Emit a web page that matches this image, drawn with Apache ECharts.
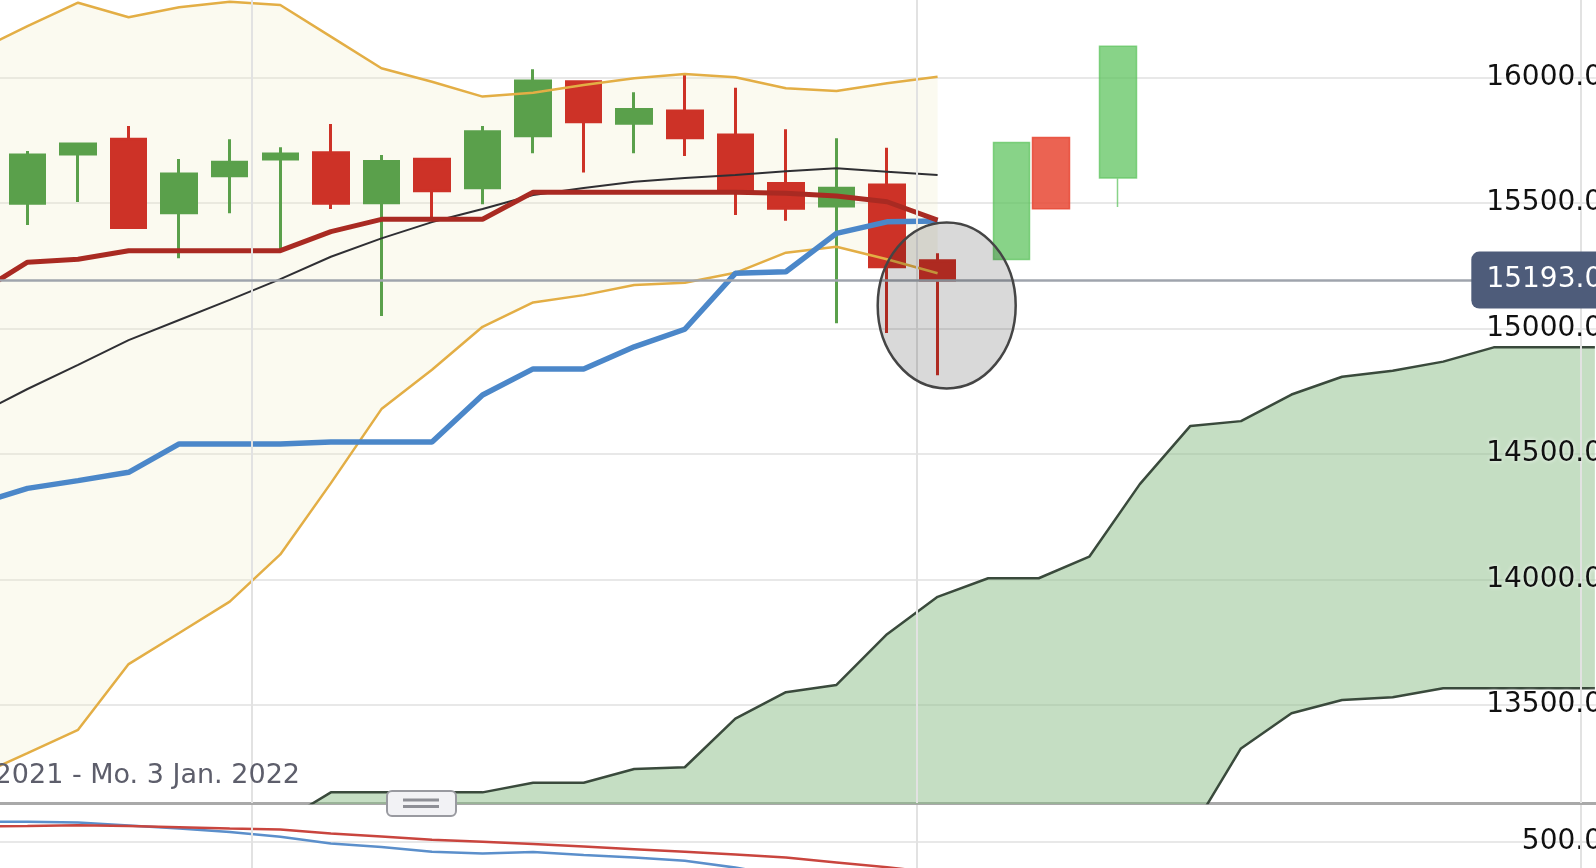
<!DOCTYPE html>
<html>
<head>
<meta charset="utf-8">
<title>Ichimoku</title>
<script src="https://cdn.jsdelivr.net/npm/echarts@6.0.0/dist/echarts.min.js"></script>
<style>
  html, body { margin: 0; padding: 0; background: #fff; overflow: hidden; }
  #chart { width: 1596px; height: 868px; }
</style>
</head>
<body>
<div id="chart"></div>
<script>
// daily candles, day 0..18 : [open, close, low, high]
const candles = [
  [15499, 15691, 15412, 15707],
  [15695, 15735, 15504, 15735],
  [15754, 15402, 15402, 15807],
  [15461, 15616, 15280, 15675],
  [15609, 15662, 15459, 15754],
  [15675, 15695, 15313, 15722],
  [15700, 15499, 15476, 15815],
  [15501, 15665, 15050, 15691],
  [15674, 15549, 15439, 15678],
  [15561, 15784, 15495, 15807],
  [15768, 15986, 15698, 16033],
  [15983, 15824, 15622, 15983],
  [15818, 15873, 15698, 15941],
  [15867, 15760, 15687, 16010],
  [15771, 15552, 15452, 15959],
  [15578, 15479, 15429, 15794],
  [15488, 15559, 15021, 15758],
  [15572, 15246, 14982, 15720],
  [15270, 15193, 14814, 15300]
];
const lastPrice = 15193;

// indicator lines, day -1..18
const indStart = -1;
const bollUpper = [16106, 16205, 16298, 16240, 16280, 16302, 16289, 16163, 16037, 15983,
                   15924, 15939, 15970, 15997, 16014, 16001, 15957, 15946, 15977, 16003];
const bollLower = [13217, 13308, 13401, 13663, 13787, 13912, 14100, 14384, 14679, 14836,
                   15007, 15104, 15133, 15173, 15182, 15222, 15302, 15326, 15276, 15220];
const bollMid   = [14655, 14759, 14855, 14954, 15034, 15114, 15197, 15286, 15359, 15424,
                   15476, 15532, 15560, 15585, 15600, 15612, 15627, 15638, 15625, 15612];
const kijun     = [15139, 15264, 15276, 15310, 15310, 15310, 15310, 15386, 15435, 15435,
                   15435, 15543, 15543, 15543, 15543, 15543, 15539, 15528, 15505, 15432];
const tenkan    = [14301, 14363, 14394, 14427, 14540, 14540, 14540, 14548, 14548, 14548,
                   14735, 14839, 14839, 14927, 14997, 15220, 15226, 15379, 15425, 15428];

// cloud, day 5..31
const cloudStart = 5;
const spanA = [13030, 13152, 13152, 13152, 13152, 13190, 13190, 13245, 13252, 13446,
               13551, 13580, 13782, 13931, 14005, 14005, 14091, 14380, 14612, 14631,
               14737, 14808, 14832, 14868, 14925, 14925, 14925];
const spanB = [12880, 12880, 12880, 12880, 12880, 12880, 12880, 12880, 12880, 12880,
               12880, 12880, 12880, 12880, 12880, 12880, 12880, 12880, 12993, 13327,
               13467, 13520, 13531, 13567, 13567, 13567, 13567];

// lower panel, day -1..18
const macdLine   = [602, 601, 597, 582, 567, 550, 526, 493, 475, 451,
                    443, 450, 435, 423, 406, 372, 330, 300, 270, 240];
const signalLine = [578, 580, 584, 580, 574, 567, 562, 543, 527, 511,
                    501, 490, 477, 464, 451, 437, 422, 398, 374, 345];

// hand drawn candles: [day, open, close, low, high]
const sketches = [
  [19.46, 15275, 15741, 15275, 15741],
  [20.24, 15761, 15477, 15477, 15761],
  [21.57, 15600, 16125, 15484, 16125]
];

const gridDays = [4.43, 17.58, 30.72];
const circleCenter = [18.18, 15092];
const rangeText = '2021 - Mo. 3 Jan. 2022';

const FONT = 'DejaVu Sans';
const xMin = -0.544, xMax = 31.22;

const pairs = (arr, start) => arr.map((v, i) => [start + i, v]);
// value first, day second, so the stack runs on the price dimension
const flipped = (arr, start) => arr.map((v, i) => [v, start + i]);
const flippedDiff = (a, b, start) => a.map((v, i) => [v - b[i], start + i]);

const green = '#5aa04b', red = '#cd3227';

const chart = echarts.init(document.getElementById('chart'));

const plainLine = (name, data, color, width, extra) => Object.assign({
  name: name, type: 'line', data: data, symbol: 'none', showSymbol: false, z: 4,
  lineStyle: { color: color, width: width }, silent: true
}, extra || {});

const option = {
  animation: false,
  backgroundColor: '#fff',
  grid: [
    { left: 0, top: 0, width: 1606, height: 803, outerBoundsMode: 'none', containLabel: false },
    { left: 0, top: 805, width: 1606, height: 137, outerBoundsMode: 'none', containLabel: false }
  ],
  xAxis: [
    { type: 'value', gridIndex: 0, min: xMin, max: xMax,
      axisLine: { show: true, onZero: false, lineStyle: { color: '#a9a9a9', width: 3 } },
      axisTick: { show: false }, axisLabel: { show: false }, splitLine: { show: false } },
    { type: 'value', gridIndex: 1, min: xMin, max: xMax,
      axisLine: { show: false }, axisTick: { show: false }, axisLabel: { show: false }, splitLine: { show: false } }
  ],
  yAxis: [
    { type: 'value', gridIndex: 0, position: 'right', min: 13109.6, max: 16308.8, splitNumber: 6,
      axisLine: { show: false }, axisTick: { show: false }, axisLabel: { show: false },
      splitLine: { show: true, showMinLine: false, showMaxLine: false, lineStyle: { color: '#e8e8e8', width: 2 } } },
    { type: 'value', gridIndex: 0, position: 'right', min: 13109.6, max: 16308.8, splitNumber: 6, z: 10,
      axisLine: { show: false }, axisTick: { show: false }, splitLine: { show: false },
      axisLabel: { inside: true, margin: 4, showMinLabel: false, showMaxLabel: false,
        formatter: v => v.toFixed(1), color: '#111', fontSize: 28, fontFamily: FONT,
        textShadowColor: 'rgba(255,255,255,0.9)', textShadowBlur: 4 } },
    { type: 'value', gridIndex: 1, position: 'right', min: 0, max: 685, interval: 500,
      axisLine: { show: false }, axisTick: { show: false },
      splitLine: { show: true, showMaxLine: false, lineStyle: { color: '#e8e8e8', width: 2 } },
      axisLabel: { inside: true, margin: 4, showMinLabel: false, showMaxLabel: false,
        formatter: v => v.toFixed(1), color: '#111', fontSize: 28, fontFamily: FONT } }
  ],
  series: [
    // cloud
    plainLine('cloudBase', flipped(spanB, cloudStart), 'transparent', 0, {
      z: 1, stack: 'cloud', encode: { x: 1, y: 0 }, lineStyle: { opacity: 0 },
      markLine: { silent: true, symbol: ['none', 'none'], label: { show: false },
        lineStyle: { color: '#e2e2e2', width: 2, type: 'solid' },
        data: gridDays.map(d => ({ xAxis: d })) }
    }),
    plainLine('cloudFill', flippedDiff(spanA, spanB, cloudStart), 'transparent', 0, {
      z: 1, stack: 'cloud', encode: { x: 1, y: 0 }, lineStyle: { opacity: 0 },
      areaStyle: { color: 'rgba(140,190,135,0.5)', opacity: 1 }
    }),
    // bollinger fill
    plainLine('bandBase', flipped(bollLower, indStart), 'transparent', 0, {
      z: 1, stack: 'band', encode: { x: 1, y: 0 }, lineStyle: { opacity: 0 }
    }),
    plainLine('bandFill', flippedDiff(bollUpper, bollLower, indStart), 'transparent', 0, {
      z: 1, stack: 'band', encode: { x: 1, y: 0 }, lineStyle: { opacity: 0 },
      areaStyle: { color: 'rgba(240,236,196,0.25)', opacity: 1 }
    }),
    // last price line and label
    plainLine('last', [[candles.length - 1, lastPrice]], 'transparent', 0, {
      z: 2, lineStyle: { opacity: 0 },
      markLine: { silent: true, symbol: ['none', 'none'], label: { show: false },
        lineStyle: { color: '#9fa4ad', width: 2.5, type: 'solid' },
        data: [{ yAxis: lastPrice }] },
      markPoint: { silent: true,
        symbol: 'path://M8,0 H138 A8,8 0 0 1 146,8 V49 A8,8 0 0 1 138,57 H8 A8,8 0 0 1 0,49 V8 A8,8 0 0 1 8,0 Z',
        symbolSize: [146, 57],
        itemStyle: { color: '#4e5c7a' },
        label: { show: true, formatter: lastPrice.toFixed(1), color: '#fff', fontSize: 28, fontFamily: FONT },
        data: [{ coord: [30, lastPrice] }] }
    }),
    {
      name: 'candles', type: 'candlestick', silent: true, z: 3,
      data: candles.map((c, i) => [i].concat(c)),
      barWidth: 35,
      itemStyle: { color: green, color0: red, borderColor: green, borderColor0: red, borderWidth: 3, opacity: 1 }
    },
    {
      name: 'sketch', type: 'candlestick', silent: true, z: 3,
      data: sketches,
      barWidth: 37,
      itemStyle: { color: 'rgba(96,196,96,0.75)', color0: 'rgba(232,72,52,0.85)',
        borderColor: 'rgba(96,196,96,0.75)', borderColor0: 'rgba(232,72,52,0.85)', borderWidth: 1.5 }
    },
    plainLine('bollUpper', pairs(bollUpper, indStart), '#e3ae45', 2.5),
    plainLine('bollLower', pairs(bollLower, indStart), '#e3ae45', 2.5),
    plainLine('bollMid', pairs(bollMid, indStart), '#2f2f33', 2),
    plainLine('spanA', pairs(spanA, cloudStart), '#3a4a3c', 2.5),
    plainLine('spanB', pairs(spanB, cloudStart), '#3a4a3c', 2.5),
    plainLine('tenkan', pairs(tenkan, indStart), '#4b87c9', 5.5),
    plainLine('kijun', pairs(kijun, indStart), '#a92a22', 5),
    // lower panel
    plainLine('macd', pairs(macdLine, indStart), '#5b8fcb', 2.5, {
      xAxisIndex: 1, yAxisIndex: 2,
      markLine: { silent: true, symbol: ['none', 'none'], label: { show: false },
        lineStyle: { color: '#e2e2e2', width: 2, type: 'solid' },
        data: gridDays.map(d => ({ xAxis: d })) }
    }),
    plainLine('signal', pairs(signalLine, indStart), '#c9453e', 2.5, { xAxisIndex: 1, yAxisIndex: 2 })
  ]
};

chart.setOption(option);

const c = chart.convertToPixel({ gridIndex: 0 }, circleCenter);
chart.setOption({
  graphic: [
    { type: 'ellipse', z: 100, silent: true,
      shape: { cx: c[0], cy: c[1], rx: 69, ry: 83 },
      style: { fill: 'rgba(0,0,0,0.15)', stroke: '#454545', lineWidth: 2.5 } },
    { type: 'text', z: 100, silent: true,
      style: { text: rangeText, x: 300, y: 776, align: 'right', verticalAlign: 'middle',
        fontSize: 27, fontFamily: FONT, fill: '#5d5e6b' } },
    { type: 'group', z: 100, silent: true, children: [
      { type: 'rect', z: 100, shape: { x: 387, y: 791, width: 69, height: 25, r: 5 },
        style: { fill: '#f2f2f5', stroke: '#999aa0', lineWidth: 2 } },
      { type: 'line', z: 101, shape: { x1: 403, y1: 800, x2: 439, y2: 800 },
        style: { stroke: '#8e8f96', lineWidth: 3 } },
      { type: 'line', z: 101, shape: { x1: 403, y1: 806.5, x2: 439, y2: 806.5 },
        style: { stroke: '#8e8f96', lineWidth: 3 } }
    ] }
  ]
});
</script>
</body>
</html>
